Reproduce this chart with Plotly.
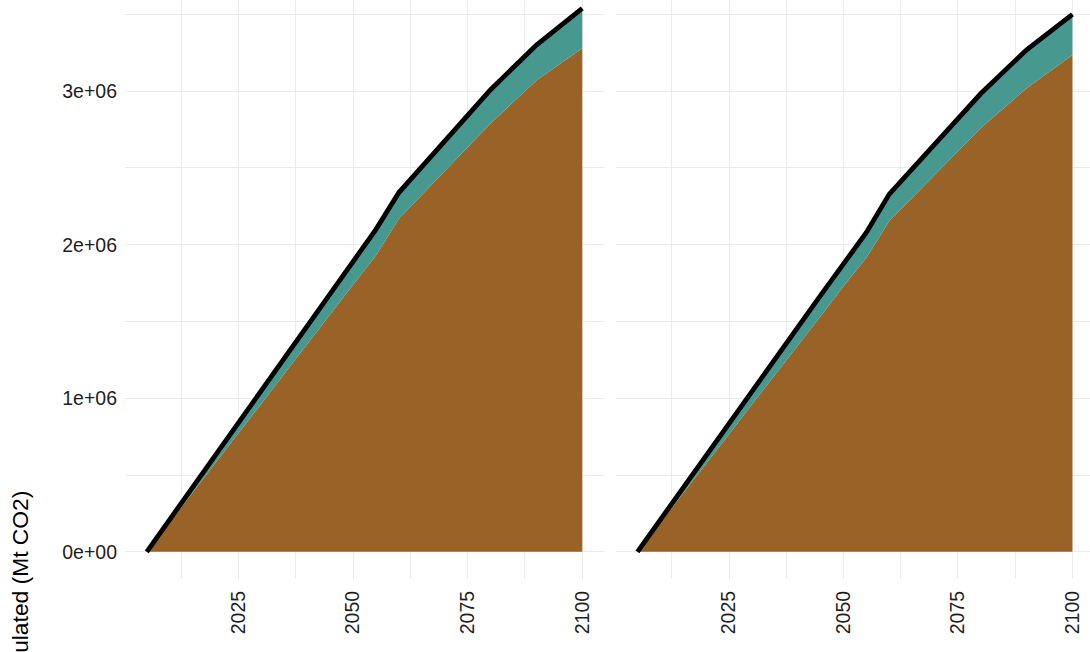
import plotly.graph_objects as go

# ---- data (values in Mt CO2, cumulated) ----
years = [2005, 2010, 2015, 2020, 2025, 2030, 2035, 2040, 2045, 2050, 2055, 2060, 2070, 2080, 2090, 2100]

# left panel
left_brown = [0, 190000, 385000, 580000, 770000, 965000, 1160000, 1350000, 1545000, 1740000, 1930000,
              2170000, 2480000, 2790000, 3070000, 3280000]
left_total = [0, 210000, 420000, 630000, 840000, 1050000, 1260000, 1470000, 1680000, 1890000, 2100000,
              2340000, 2680000, 3010000, 3300000, 3540000]

# right panel
right_brown = [0, 190000, 380000, 575000, 765000, 960000, 1150000, 1345000, 1535000, 1730000, 1915000,
               2155000, 2460000, 2760000, 3020000, 3235000]
right_total = [0, 210000, 420000, 625000, 835000, 1040000, 1250000, 1460000, 1670000, 1875000, 2080000,
               2330000, 2660000, 2985000, 3270000, 3500000]

x_ticks = [2025, 2050, 2075, 2100]
x_ticklabels = ["2025", "2050", "2075", "2100"]
y_ticks = [0, 1000000, 2000000, 3000000]
y_ticklabels = ["0e+00", "1e+06", "2e+06", "3e+06"]
y_title = "Cumulated (Mt CO2)"

BROWN = "#996226"
TEAL = "#47998F"
GRID = "#EBEBEB"
TXT = "#1E1E1E"
FONT = "Liberation Sans, Arial, sans-serif"

W, H = 1090, 652

fig = go.Figure()

panels = [
    ("x", "y", left_brown, left_total),
    ("x2", "y2", right_brown, right_total),
]
for xa, ya, brown, total in panels:
    fig.add_trace(go.Scatter(x=years, y=brown, xaxis=xa, yaxis=ya, mode="lines",
                             line=dict(width=0, color=BROWN), fill="tozeroy",
                             fillcolor=BROWN, showlegend=False, hoverinfo="skip"))
    fig.add_trace(go.Scatter(x=years, y=total, xaxis=xa, yaxis=ya, mode="lines",
                             line=dict(width=0, color=TEAL), fill="tonexty",
                             fillcolor=TEAL, showlegend=False, hoverinfo="skip"))
    fig.add_trace(go.Scatter(x=years, y=total, xaxis=xa, yaxis=ya, mode="lines",
                             line=dict(width=4.8, color="black"),
                             showlegend=False, hoverinfo="skip"))

# pixel geometry
left_x0, left_x1 = 125, 604
right_x0 = 615.7
panel_bottom = 579
yr_left = [2000.25, 2104.75]
px_per_yr_right = (1072.7 - 729.3) / 75
yr_right = [2000.25, 2000.25 + (W - right_x0) / px_per_yr_right]
y_range = [-177000, 3594000]

common_x = dict(
    tickvals=x_ticks, ticktext=x_ticklabels, tickangle=-90,
    showgrid=True, gridcolor=GRID, gridwidth=1.3,
    zeroline=False, showline=False, ticks="", automargin=False,
    tickfont=dict(family=FONT, size=19.5, color=TXT),
    ticklabelstandoff=7,
    minor=dict(tick0=2012.5, dtick=25, showgrid=True, gridcolor=GRID, gridwidth=1.1),
)
common_y = dict(
    range=y_range, tickvals=y_ticks, ticktext=y_ticklabels,
    showgrid=True, gridcolor=GRID, gridwidth=1.3,
    zeroline=False, showline=False, ticks="", automargin=False,
    tickfont=dict(family=FONT, size=19.5, color=TXT),
    ticklabelstandoff=7,
    minor=dict(tick0=0, dtick=500000, showgrid=True, gridcolor=GRID, gridwidth=1.1),
    domain=[(H - panel_bottom) / H, 1],
)

fig.update_layout(
    width=W, height=H,
    margin=dict(l=0, r=0, t=0, b=0, autoexpand=False),
    paper_bgcolor="white", plot_bgcolor="white",
    xaxis=dict(common_x, domain=[left_x0 / W, left_x1 / W], range=yr_left, anchor="y"),
    xaxis2=dict(common_x, domain=[right_x0 / W, 1], range=yr_right, anchor="y2"),
    yaxis=dict(common_y, anchor="x"),
    yaxis2=dict(common_y, anchor="x2", matches="y", showticklabels=False),
    annotations=[dict(
        text=y_title, textangle=-90, showarrow=False,
        xref="paper", yref="paper", x=20 / W, y=(H - 489) / H,
        xanchor="center", yanchor="top",
        font=dict(family=FONT, size=22.8, color="black"),
    )],
)

fig.write_html(
    "out.html",
    config={"displayModeBar": False},
    post_script="document.body.style.margin='0';document.body.style.overflow='hidden';",
)
